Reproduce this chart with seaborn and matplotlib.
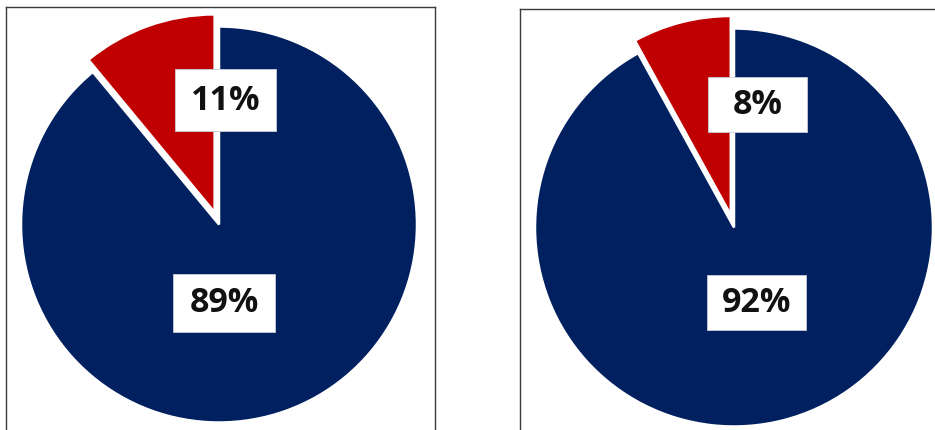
import matplotlib
matplotlib.use("Agg")
import matplotlib.pyplot as plt
from matplotlib.patches import Rectangle
import seaborn as sns

# ---- data ----
categories = ["Yes", "No"]
left_values = [11, 89]
right_values = [8, 92]
left_labels = ["11%", "89%"]
right_labels = ["8%", "92%"]
colors = ["#C00000", "#002060"]

sns.set_theme(style="white")
plt.rcParams["font.family"] = ["Open Sans", "DejaVu Sans"]

W, H = 935, 431
fig = plt.figure(figsize=(W / 100, H / 100), dpi=100)
fig.patch.set_facecolor("white")


def make_axes(x0, x1, ytop, ybot):
    # pixel box -> figure fraction (y measured from top in pixels)
    ax = fig.add_axes([x0 / W, (H - ybot) / H, (x1 - x0) / W, (ybot - ytop) / H])
    return ax


def draw_pie(ax, values, labels, center_px, radius, boxes):
    cx, cy = center_px[0], H - center_px[1]
    ax.pie(values, colors=colors, startangle=90, counterclock=True,
           explode=[0.065 * radius, 0], center=(cx, cy), radius=radius,
           frame=True,
           wedgeprops=dict(edgecolor="white", linewidth=1.8))
    ax.set_aspect("auto")
    for lab, (bx, by, bw, bh) in zip(labels, boxes):
        ax.add_patch(Rectangle((bx - bw / 2, H - by - bh / 2), bw, bh,
                               facecolor="white", edgecolor="#c8ccd8",
                               linewidth=0.6, zorder=5))
        ax.text(bx, H - by + 0.5, lab, ha="center", va="center",
                fontsize=24.5, fontweight="bold", color="#111111", zorder=6)
    ax.set_xticks([])
    ax.set_yticks([])
    for s in ax.spines.values():
        s.set_visible(True)
        s.set_color("#3a3a3a")
        s.set_linewidth(1.0)


axL = make_axes(6, 435, 8, 445)
draw_pie(axL, left_values, left_labels, (219, 225.5), 198,
         [(225.5, 101, 101, 62), (224, 304, 102, 58)])
axL.set_xlim(6, 435)
axL.set_ylim(H - 445, H - 8)

axR = make_axes(520, 945, 10, 445)
draw_pie(axR, right_values, right_labels, (734, 228.5), 199,
         [(757.5, 105.5, 99, 55), (756.5, 303.5, 99, 55)])
axR.set_xlim(520, 945)
axR.set_ylim(H - 445, H - 10)

fig.savefig("out.png", dpi=100, facecolor="white")
